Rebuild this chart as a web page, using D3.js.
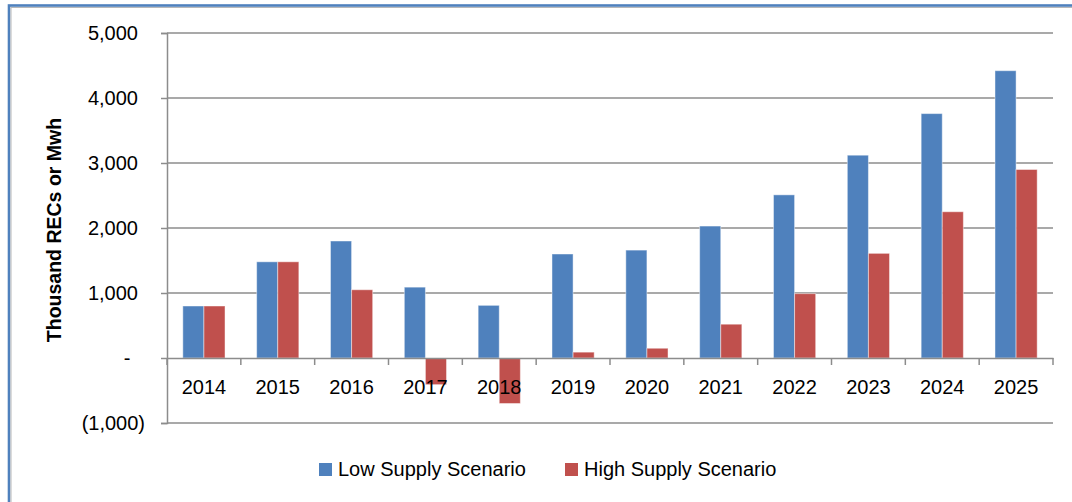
<!DOCTYPE html>
<html>
<head>
<meta charset="utf-8">
<script src="https://cdn.jsdelivr.net/npm/d3@7"></script>
<style>
  body { margin: 0; background: #fff; }
  svg { display: block; font-family: "Liberation Sans", Arial, sans-serif; }
</style>
</head>
<body>
<div id="chart"></div>
<script>
const years = ["2014", "2015", "2016", "2017", "2018", "2019", "2020", "2021", "2022", "2023", "2024", "2025"];
const lowSupply = [800, 1480, 1800, 1090, 810, 1600, 1660, 2030, 2510, 3120, 3760, 4420];
const highSupply = [800, 1480, 1050, -410, -700, 90, 150, 520, 990, 1610, 2250, 2900];
const seriesNames = ["Low Supply Scenario", "High Supply Scenario"];
const seriesColors = ["#4f81bd", "#c0504d"];
const yTicks = [-1000, 0, 1000, 2000, 3000, 4000, 5000];

function drawChart() {
  const data = years.map((y, i) => ({ year: y, values: [lowSupply[i], highSupply[i]] }));

  let dimensions = {
    width: 1072,
    height: 502,
    margin: { top: 33, right: 19, bottom: 79, left: 167 },
  };
  dimensions.boundedWidth = dimensions.width - dimensions.margin.left - dimensions.margin.right;
  dimensions.boundedHeight = dimensions.height - dimensions.margin.top - dimensions.margin.bottom;

  const wrapper = d3.select("#chart")
    .append("svg")
      .attr("width", dimensions.width)
      .attr("height", dimensions.height);

  // outer chart frame (only top and left edges show)
  wrapper.append("rect")
    .attr("x", 9).attr("y", 5.5)
    .attr("width", 1200).attr("height", 700)
    .attr("fill", "none")
    .attr("stroke", "#4f81bd")
    .attr("stroke-width", 2.6);
  wrapper.append("rect")
    .attr("x", 11).attr("y", 7.5)
    .attr("width", 1200).attr("height", 700)
    .attr("fill", "none")
    .attr("stroke", "#b8b8b8")
    .attr("stroke-width", 1);

  const bounds = wrapper.append("g")
    .attr("transform", `translate(${dimensions.margin.left}, ${dimensions.margin.top})`);

  const yScale = d3.scaleLinear()
    .domain([-1000, 5000])
    .range([dimensions.boundedHeight, 0]);

  const xScale = d3.scaleBand()
    .domain(years)
    .range([0, dimensions.boundedWidth])
    .paddingInner(0)
    .paddingOuter(0);

  const bw = xScale.bandwidth();
  const barW = bw / 3.5;   // gap width 150%
  const innerScale = d3.scaleBand()
    .domain([0, 1])
    .range([(bw - 2 * barW) / 2, (bw + 2 * barW) / 2]);

  const fmt = v => {
    if (v === 0) return "-";
    const s = d3.format(",")(Math.abs(v));
    return v < 0 ? `(${s})` : s;
  };

  // gridlines + y axis
  const yAxis = d3.axisLeft(yScale)
    .tickValues(yTicks)
    .tickSize(6)
    .tickFormat("");

  bounds.append("g")
    .selectAll("line.grid")
    .data(yTicks.filter(d => d !== 0))
    .join("line")
      .attr("class", "grid")
      .attr("x1", 0)
      .attr("x2", dimensions.boundedWidth)
      .attr("y1", d => yScale(d))
      .attr("y2", d => yScale(d))
      .attr("stroke", "#8c8c8c")
      .attr("stroke-width", 1.5);

  bounds.append("g")
    .call(yAxis)
    .call(g => g.select(".domain").attr("stroke", "#8c8c8c").attr("stroke-width", 1.5))
    .call(g => g.selectAll(".tick line").attr("stroke", "#8c8c8c").attr("stroke-width", 1.5));

  bounds.append("g")
    .selectAll("text")
    .data(yTicks)
    .join("text")
      .attr("x", d => d === 0 ? -40 : (d < 0 ? -22 : -29))
      .attr("y", d => yScale(d))
      .attr("dy", "0.36em")
      .attr("text-anchor", d => d === 0 ? "middle" : "end")
      .attr("font-size", 20)
      .attr("fill", "#000")
      .text(fmt);

  // bars
  const groups = bounds.append("g")
    .selectAll("g")
    .data(data)
    .join("g")
      .attr("transform", d => `translate(${xScale(d.year)},0)`);

  groups.selectAll("rect")
    .data(d => d.values.map((v, i) => ({ v, i })))
    .join("rect")
      .attr("x", d => innerScale(d.i))
      .attr("width", innerScale.bandwidth())
      .attr("y", d => yScale(Math.max(0, d.v)))
      .attr("height", d => Math.abs(yScale(d.v) - yScale(0)))
      .attr("fill", d => seriesColors[d.i])
      .attr("stroke", "rgba(255,255,255,0.45)")
      .attr("stroke-width", 1);

  // category axis at zero
  const xAxis = d3.axisBottom(xScale).tickSize(0).tickFormat("");
  bounds.append("g")
    .attr("transform", `translate(0, ${yScale(0)})`)
    .call(xAxis)
    .call(g => g.select(".domain").attr("stroke", "#8c8c8c").attr("stroke-width", 1.5));

  bounds.append("g")
    .selectAll("line")
    .data(d3.range(years.length + 1))
    .join("line")
      .attr("x1", i => i * bw)
      .attr("x2", i => i * bw)
      .attr("y1", yScale(0))
      .attr("y2", yScale(0) + 7)
      .attr("stroke", "#8c8c8c")
      .attr("stroke-width", 1.5);

  bounds.append("g")
    .selectAll("text")
    .data(years)
    .join("text")
      .attr("x", d => xScale(d) + bw / 2)
      .attr("y", yScale(0) + 36)
      .attr("text-anchor", "middle")
      .attr("font-size", 20)
      .attr("fill", "#000")
      .text(d => d);

  // y axis title
  wrapper.append("text")
    .attr("transform", "translate(61, 230) rotate(-90)")
    .attr("text-anchor", "middle")
    .attr("font-size", 19.5)
    .attr("font-weight", "bold")
    .attr("fill", "#000")
    .text("Thousand RECs or Mwh");

  // legend
  const legendX = [319, 565];
  const legend = wrapper.append("g")
    .selectAll("g")
    .data(seriesNames)
    .join("g")
      .attr("transform", (d, i) => `translate(${legendX[i]}, 463)`);

  legend.append("rect")
    .attr("width", 13)
    .attr("height", 13)
    .attr("fill", (d, i) => seriesColors[i]);

  legend.append("text")
    .attr("x", 19)
    .attr("y", 13)
    .attr("font-size", 20)
    .attr("fill", "#000")
    .text(d => d);
}
drawChart();
</script>
</body>
</html>
